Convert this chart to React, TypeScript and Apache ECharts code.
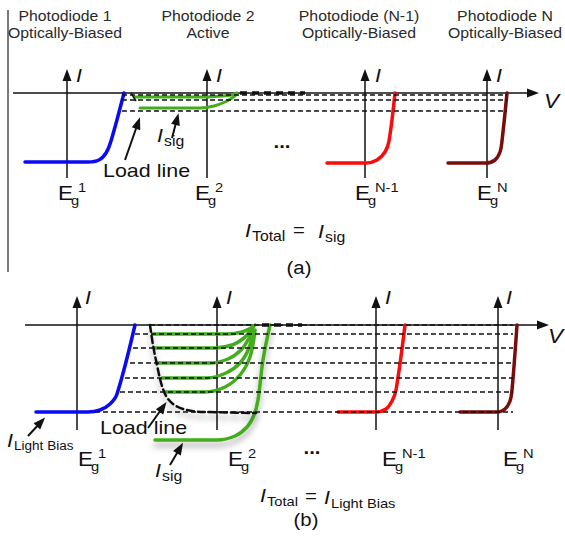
import React, { useEffect, useRef } from "react";
import * as echarts from "echarts";

const FONT = '"Liberation Sans", Arial, Helvetica, sans-serif';
const SX = 1.13;

// ---------------- panel (a) ----------------
const vAxisA = [[13, 93], [533, 93]];
const iAxisXA = [67, 207, 365, 487];
const iAxisSpanA = [178, 75];
const dashRowsA = [[122, 95], [122, 100], [122, 111]];
const dashEndA = 507;
const blueA = [[25, 162], [88, 162], [99, 160], [106, 153], [111, 141], [124, 93]];
const redA = [[327, 163], [366, 163], [377, 160], [385, 152], [389, 141], [395, 93]];
const darkRedA = [[448, 163], [486, 163], [495, 160], [500, 152], [502, 141], [507, 93]];
const greenA1 = [[135, 97], [205, 97], [222, 96], [231, 95], [237, 93]];
const greenA2 = [[140, 108], [200, 108], [214, 106], [225, 102], [232, 98], [237, 94]];
const loadLineA = [[131, 93], [136, 101], [141, 112]];
const thickDashA = [[240, 93], [305, 93]];
const arrowsA = [
  [[125, 160], [138, 123]],
  [[172, 138], [177, 119]],
];
const borderA = [[8, 10], [8, 272]];

// ---------------- panel (b) ----------------
const vAxisB = [[25, 325], [543, 325]];
const iAxisXB = [77, 217, 376, 498];
const iAxisSpanB = [430, 302];
const dashRowsB = [[150, 325], [135, 334], [133, 348], [130, 363], [125, 378], [120, 392], [95, 412]];
const dashEndB = 513;
const blueB = [[36, 412], [88, 412], [100, 410], [110, 404], [117, 394], [135, 325]];
const redB = [[338, 412], [376, 412], [386, 409], [392, 401], [396, 390], [405, 325]];
const darkRedB = [[460, 412], [497, 412], [505, 409], [510, 401], [512, 390], [517, 325]];
const greenB = [
  [[153, 334], [228, 334], [242, 332], [251, 328], [255, 325]],
  [[155, 348], [215, 348], [232, 345], [244, 338], [250, 331], [253, 326]],
  [[158, 363], [210, 363], [228, 359], [241, 350], [249, 338], [253, 327]],
  [[162, 378], [207, 378], [226, 373], [240, 363], [249, 348], [253, 330]],
  [[165, 392], [205, 392], [225, 387], [240, 375], [250, 357], [255, 330]],
];
const greenBigB = [[155, 440], [217, 440], [235, 436], [247, 427], [254, 415], [258, 400], [263, 360], [270, 325]];
const loadLineB = [[150, 325], [153, 345], [157, 365], [162, 386], [168, 399], [178, 407], [192, 411], [210, 412], [256, 413]];
const thickDashB = [[262, 325], [302, 325]];
const arrowsB = [
  [[28, 436], [41, 422]],
  [[148, 428], [163, 407]],
  [[170, 465], [180, 448]],
];

// ---------------- texts ----------------
const titles = [
  ["Photodiode 1", "Optically-Biased", 65],
  ["Photodiode 2", "Active", 208],
  ["Photodiode (N-1)", "Optically-Biased", 359],
  ["Photodiode N", "Optically-Biased", 505],
];
const egSupers = ["1", "2", "N-1", "N"];
const egXA = [58, 195, 355, 477];
const egXB = [78, 228, 382, 503];
const iLabelXA = [76, 216, 375, 496];
const iLabelXB = [85, 226, 385, 506];

function t(text: string, x: number, y: number, size: number, o: any = {}) {
  const align = o.align || "left";
  return {
    type: "text",
    x,
    y,
    scaleX: o.sx ?? SX,
    silent: true,
    z: 10,
    style: {
      text,
      fontSize: size,
      fontFamily: FONT,
      fontStyle: o.italic ? "italic" : "normal",
      fontWeight: o.bold ? "bold" : "normal",
      fill: o.color || "#111",
      textAlign: align,
      textVerticalAlign: "middle",
    },
  };
}

function eg(x: number, y: number, sup: string) {
  return [
    t("E", x, y, 20),
    t("g", x + 13, y + 7, 13),
    t(sup, x + 20, y - 6, 13),
  ];
}

function iSub(x: number, y: number, sub: string, size = 19, subSize = 14) {
  return [
    t("I", x, y, size, { italic: true }),
    t(sub, x + 7, y + 6, subSize),
  ];
}

function buildGraphics() {
  const g: any[] = [];
  titles.forEach(([a, b, cx]) => {
    g.push(t(a as string, cx as number, 16, 14, { align: "center", color: "#2a2a2a" }));
    g.push(t(b as string, cx as number, 33, 14, { align: "center", color: "#2a2a2a" }));
  });
  iLabelXA.forEach((x) => g.push(t("I", x, 75, 19, { italic: true })));
  iLabelXB.forEach((x) => g.push(t("I", x, 297, 19, { italic: true })));
  g.push(t("V", 544, 101, 20, { italic: true }));
  g.push(t("V", 548, 336, 20, { italic: true }));
  egXA.forEach((x, i) => g.push(...eg(x, 193, egSupers[i])));
  egXB.forEach((x, i) => g.push(...eg(x, 459, egSupers[i])));
  // panel a labels
  g.push(t("Load line", 103, 170, 19));
  g.push(...iSub(157, 135, "sig"));
  g.push(t("...", 282, 142, 18, { align: "center", bold: true }));
  g.push(...iSub(245, 230, "Total"));
  g.push(t("=", 293, 230, 18));
  g.push(...iSub(318, 231, "sig"));
  g.push(t("(a)", 299, 268, 18, { align: "center" }));
  // panel b labels
  g.push(...iSub(7, 440, "Light Bias", 19, 12));
  g.push(t("Load line", 100, 427, 19));
  g.push(...iSub(155, 470, "sig"));
  g.push(t("...", 312, 448, 18, { align: "center", bold: true }));
  g.push(...iSub(260, 495, "Total", 19, 13));
  g.push(t("=", 305, 496, 18));
  g.push(...iSub(324, 497, "Light Bias", 19, 13));
  g.push(t("(b)", 306, 520, 18, { align: "center" }));
  return g;
}

function curve(data: number[][], color: string, width = 3.5, extra: any = {}, z = 3) {
  return {
    type: "line",
    data,
    smooth: 0.35,
    symbol: "none",
    silent: true,
    z,
    lineStyle: { color, width, cap: "round", ...extra },
  };
}

function segs(list: number[][][], color: string, width: number, type: any, z: number, arrow = false) {
  return {
    type: "lines",
    coordinateSystem: "cartesian2d",
    silent: true,
    z,
    symbol: arrow ? ["none", "triangle"] : "none",
    symbolSize: arrow ? [0, [9, 12]] : 0,
    lineStyle: { color, width, type, opacity: 1, curveness: 0 },
    data: list.map((c) => ({ coords: c })),
  };
}

function buildOption() {
  const axesA = iAxisXA.map((x) => [[x, iAxisSpanA[0]], [x, iAxisSpanA[1]]]);
  const axesB = iAxisXB.map((x) => [[x, iAxisSpanB[0]], [x, iAxisSpanB[1]]]);
  const rowsA = dashRowsA.map(([x0, y]) => [[x0, y], [dashEndA, y]]);
  const rowsB = dashRowsB.map(([x0, y]) => [[x0, y], [dashEndB, y]]);
  const GREEN = "#44ad1e";
  const shadow = { shadowColor: "rgba(0,0,0,0.35)", shadowBlur: 6, shadowOffsetY: 5 };
  return {
    animation: false,
    backgroundColor: "#ffffff",
    grid: { left: 0, right: 0, top: 0, bottom: 0 },
    xAxis: { type: "value", min: 0, max: 565, show: false },
    yAxis: { type: "value", min: 0, max: 538, inverse: true, show: false },
    series: [
      segs([borderA], "#7a7a7a", 2, "solid", 1),
      // axes
      segs([vAxisA, vAxisB], "#111", 1.5, "solid", 2, true),
      segs([...axesA, ...axesB], "#111", 1.5, "solid", 2, true),
      // dashed levels
      segs([...rowsA, ...rowsB], "#111", 1.5, [5, 3], 5),
      segs([thickDashA, thickDashB], "#111", 3.5, [7, 5], 5),
      // panel a curves
      curve(blueA, "#0a0af5"),
      curve(redA, "#ff0a0a"),
      curve(darkRedA, "#7a0c0c"),
      curve(greenA1, GREEN, 3),
      curve(greenA2, GREEN, 3),
      segs([loadLineA], "#111", 1.5, "solid", 6),
      // panel b curves
      curve(blueB, "#0a0af5"),
      curve(redB, "#ff0a0a"),
      curve(darkRedB, "#7a0c0c"),
      ...greenB.map((d) => curve(d, GREEN, 3.5)),
      curve(greenBigB, GREEN, 3.5, shadow),
      curve(loadLineB, "#111", 2.5, { type: [7, 4], ...shadow }, 6),
      // pointer arrows
      segs([...arrowsA, ...arrowsB], "#111", 2, "solid", 7, true),
    ],
    graphic: buildGraphics(),
  };
}

export default function App() {
  const ref = useRef<HTMLDivElement>(null);
  useEffect(() => {
    document.body.style.margin = "0";
    const chart = echarts.init(ref.current!, null, { renderer: "svg" });
    chart.setOption(buildOption() as any);
    return () => chart.dispose();
  }, []);
  return (
    <div
      ref={ref}
      style={{ position: "absolute", left: 0, top: 0, width: 565, height: 538, background: "#fff" }}
    />
  );
}
